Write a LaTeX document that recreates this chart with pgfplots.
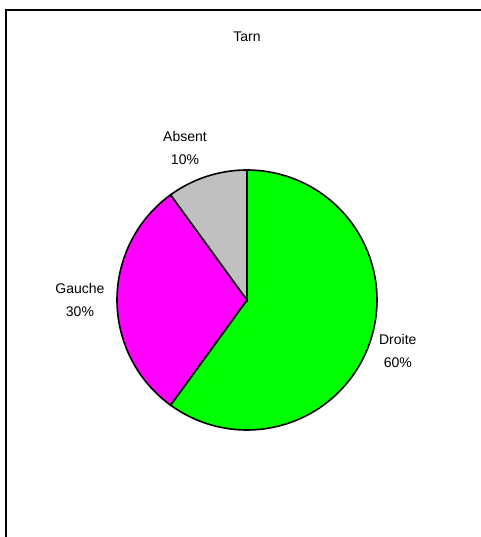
\documentclass[border=0pt]{standalone}
\usepackage{pgfplots}
\pgfplotsset{compat=1.18}
\usepackage{fontspec}
\setmainfont{Liberation Sans}
\definecolor{cDroite}{HTML}{00FF00}
\definecolor{cGauche}{HTML}{FF00FF}
\definecolor{cAbsent}{HTML}{C0C0C0}
% values (percent)
\def\vD{60}\def\vG{30}\def\vA{10}
\pgfmathsetmacro{\aA}{90}
\pgfmathsetmacro{\aB}{90-3.6*\vD}
\pgfmathsetmacro{\aC}{90-3.6*(\vD+\vG)}
\pgfmathsetmacro{\aD}{90-3.6*(\vD+\vG+\vA)}
\begin{document}
\begin{tikzpicture}[font=\fontsize{10.5pt}{17.25pt}\selectfont]
\useasboundingbox (0,0) rectangle (360.75pt,402.75pt);
\fill[white] (0,0) rectangle (360.75pt,402.75pt);
\draw[line width=1.5pt] (4.5pt,0pt) -- (4.5pt,395.25pt) -- (360.75pt,395.25pt);
\node at (185.25pt,375pt) {Tarn};
\begin{axis}[
  hide axis, scale only axis,
  x=97.5pt, y=97.5pt,
  xmin=-1, xmax=1, ymin=-1, ymax=1,
  anchor=origin, at={(185.25pt,177.75pt)},
  clip=false,
]
\addplot[fill=cDroite, draw=black, line width=1.2pt, domain=\aB:\aA, samples=120] ({cos(x)},{sin(x)}) -- (axis cs:0,0) -- cycle;
\addplot[fill=cGauche, draw=black, line width=1.2pt, domain=\aC:\aB, samples=80] ({cos(x)},{sin(x)}) -- (axis cs:0,0) -- cycle;
\addplot[fill=cAbsent, draw=black, line width=1.2pt, domain=\aD:\aC, samples=40] ({cos(x)},{sin(x)}) -- (axis cs:0,0) -- cycle;
\node[align=center] at (axis cs:-0.477,1.17) {Absent\\10\%};
\node[align=center] at (axis cs:-1.285,0.0) {Gauche\\30\%};
\node[align=center] at (axis cs:1.16,-0.39) {Droite\\60\%};
\end{axis}
\end{tikzpicture}
\end{document}
